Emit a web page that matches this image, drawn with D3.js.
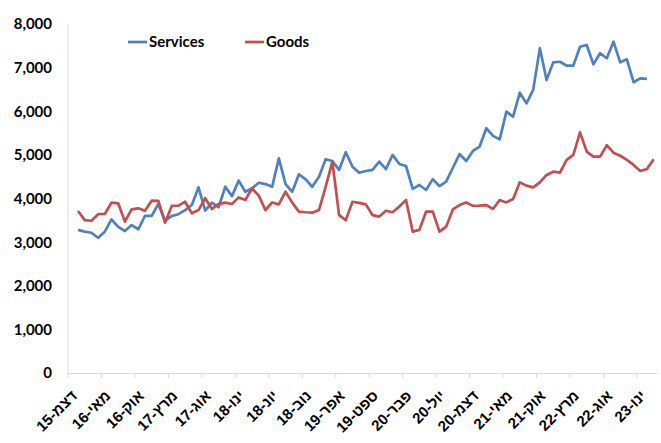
<!DOCTYPE html>
<html><head><meta charset="utf-8">
<script src="https://cdn.jsdelivr.net/npm/d3@7"></script>
<style>
html,body{margin:0;padding:0;background:#fff;}
text{font-family:Lato,"Open Sans",sans-serif;font-weight:bold;fill:#000;}
text.xl{font-family:"Liberation Sans",Arial,sans-serif;}
</style></head>
<body><svg id="chart" width="661" height="443"></svg>
<script>
// Hebrew month abbreviations (Jan..Dec)
const hebMonths = ["ינו","פבר","מרץ","אפר","מאי","יונ","יול","אוג","ספט","אוק","נוב","דצמ"];
// Categories: monthly, Dec 2015 .. Mar 2023
const startYear = 2015, startMonth = 11, nCats = 88;
const categories = d3.range(nCats).map(i => {
  const m = (startMonth + i) % 12, y = startYear + Math.floor((startMonth + i) / 12);
  return hebMonths[m] + "-" + String(y % 100).padStart(2, "0");
});
// Tick labels: every 5th category
const tickLabels = ["דצמ-15","מאי-16","אוק-16","מרץ-17","אוג-17","ינו-18","יונ-18","נוב-18","אפר-19",
  "ספט-19","פבר-20","יול-20","דצמ-20","מאי-21","אוק-21","מרץ-22","אוג-22","ינו-23"];
const yTicks = [0,1000,2000,3000,4000,5000,6000,7000,8000];

// Services: Jan-16 .. Feb-23 (Dec-15 and Mar-23 empty)
const services = [null,
 3280,3240,3215,3100,3240,3520,3350,3255,3390,3295,3600,3600,
 3875,3490,3600,3640,3735,3850,4255,3720,3905,3800,4270,4055,
 4410,4155,4235,4360,4330,4270,4920,4330,4155,4555,4440,4270,
 4500,4900,4860,4655,5060,4730,4590,4630,4655,4845,4675,5000,
 4790,4745,4220,4310,4195,4445,4285,4385,4705,5020,4860,5090,
 5190,5610,5435,5355,5990,5875,6425,6180,6490,7445,6715,7120,
 7135,7045,7045,7480,7520,7075,7330,7215,7595,7120,7190,6665,
 6755,6740,null];
// Goods: Jan-16 .. Mar-23
const goods = [null,
 3715,3505,3490,3640,3645,3905,3890,3470,3750,3775,3720,3950,
 3945,3445,3830,3835,3925,3660,3735,4005,3760,3875,3905,3875,
 4025,3965,4235,4065,3735,3910,3865,4155,3905,3700,3685,3675,
 3735,4270,4845,3620,3505,3925,3900,3865,3620,3585,3720,3685,
 3815,3965,3240,3280,3700,3700,3240,3355,3750,3850,3910,3830,
 3835,3850,3760,3965,3910,3990,4370,4295,4255,4370,4540,4615,
 4595,4885,5000,5515,5075,4960,4960,5225,5050,4980,4885,4770,
 4630,4675,4900];

const seriesNames = ["Services","Goods"];
const colors = ["#4f81bd","#c0504d"];

const svg = d3.select("#chart");
const x = d3.scaleBand().domain(categories).range([68, 657]);
const y = d3.scaleLinear().domain([0, 8000]).range([373, 24]);
const cx = c => x(c) + x.bandwidth() / 2;

// axes lines
svg.append("line").attr("x1", 68).attr("x2", 68).attr("y1", y(8000)).attr("y2", y(0))
  .attr("stroke", "#d9d9d9").attr("stroke-width", 1);
svg.append("line").attr("x1", x.range()[0]).attr("x2", x.range()[1]).attr("y1", y(0)+0.5).attr("y2", y(0)+0.5)
  .attr("stroke", "#d9d9d9").attr("stroke-width", 1);

// y tick labels
svg.selectAll(".yl").data(yTicks).enter().append("text")
  .attr("x", 52).attr("y", d => y(d)).attr("dy", "0.36em")
  .attr("text-anchor", "end").style("font-size", "15px")
  .text(d3.format(","));

// x ticks (category boundaries every 5)
const tickCats = categories.filter((c, i) => i % 5 === 0);
svg.selectAll(".xt").data(tickCats).enter().append("line")
  .attr("x1", d => x(d)).attr("x2", d => x(d))
  .attr("y1", y(0)).attr("y2", y(0) + 5)
  .attr("stroke", "#d9d9d9");

// x labels
svg.selectAll(".xl").data(tickLabels).enter().append("text")
  .attr("class", "xl")
  .attr("transform", (d, k) => `translate(${cx(categories[k*5]) + 3},${y(0) + 20}) rotate(-45)`)
  .attr("text-anchor", "end").attr("dy", "0.35em")
  .style("font-size", "15px")
  .text(d => "\u202B" + d + "\u202C");

// lines
const allSeries = [services, goods];
allSeries.forEach((vals, s) => {
  const line = d3.line()
    .defined(d => d != null)
    .x((d, i) => cx(categories[i]))
    .y(d => y(d));
  svg.append("path").datum(vals)
    .attr("fill", "none").attr("stroke", colors[s]).attr("stroke-width", 2.7)
    .attr("stroke-linejoin", "round")
    .attr("d", line);
});

// legend
const legX = [128, 245];
seriesNames.forEach((n, s) => {
  svg.append("line").attr("x1", legX[s]).attr("x2", legX[s] + 19)
    .attr("y1", 42).attr("y2", 42).attr("stroke", colors[s]).attr("stroke-width", 2.7);
  svg.append("text").attr("x", legX[s] + 21).attr("y", 42).attr("dy", "0.36em")
    .style("font-size", "15px").text(n);
});
</script></body></html>
